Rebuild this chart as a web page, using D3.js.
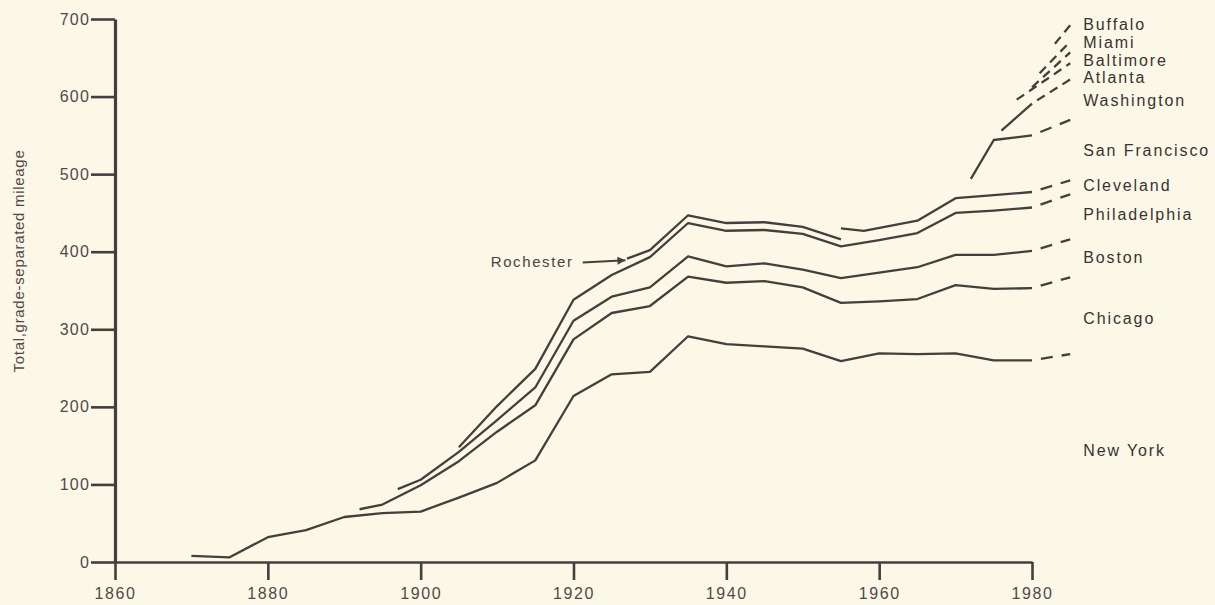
<!DOCTYPE html>
<html>
<head>
<meta charset="utf-8">
<script src="https://d3js.org/d3.v7.min.js"></script>
<style>
    body { margin: 0; background: #fcf8e8; }
    svg { display: block; }
    text { font-family: "Liberation Sans", Arial, sans-serif; }
</style>
</head>
<body>
<svg id="drawing_region"></svg>
<script>
// tick labels
const xTicks = [1860, 1880, 1900, 1920, 1940, 1960, 1980];
const yTicks = [0, 100, 200, 300, 400, 500, 600, 700];

// cumulative mileage, each line = top of that city's band
const nyYears = [1870, 1875, 1880, 1885, 1890, 1895, 1900, 1905, 1910, 1915, 1920, 1925, 1930, 1935, 1940, 1945, 1950, 1955, 1960, 1965, 1970, 1975, 1980, 1985];
const nyMiles = [8, 6, 32, 41, 58, 63, 65, 83, 102, 131, 214, 242, 245, 291, 281, 278, 275, 259, 269, 268, 269, 260, 260, 268];

const chicagoYears = [1892, 1895, 1900, 1905, 1910, 1915, 1920, 1925, 1930, 1935, 1940, 1945, 1950, 1955, 1960, 1965, 1970, 1975, 1980, 1985];
const chicagoMiles = [68, 74, 99, 130, 168, 202, 287, 321, 330, 368, 360, 362, 354, 334, 336, 339, 357, 352, 353, 367];

const bostonYears = [1897, 1900, 1905, 1910, 1915, 1920, 1925, 1930, 1935, 1940, 1945, 1950, 1955, 1960, 1965, 1970, 1975, 1980, 1985];
const bostonMiles = [94, 106, 142, 183, 225, 311, 342, 354, 394, 381, 385, 377, 366, 373, 380, 396, 396, 401, 416];

const phillyYears = [1905, 1910, 1915, 1920, 1925, 1930, 1935, 1940, 1945, 1950, 1955, 1960, 1965, 1970, 1975, 1980, 1985];
const phillyMiles = [148, 201, 249, 338, 370, 393, 437, 427, 428, 423, 407, 415, 424, 450, 453, 457, 474];

const rochesterYears = [1927, 1930, 1935, 1940, 1945, 1950, 1955];
const rochesterMiles = [391, 402, 447, 437, 438, 432, 416];

const clevelandYears = [1955, 1958, 1965, 1970, 1975, 1980, 1985];
const clevelandMiles = [430, 427, 440, 469, 473, 477, 492];

const sfYears = [1972, 1975, 1980, 1985];
const sfMiles = [494, 544, 550, 570];

const washYears = [1976, 1980, 1985];
const washMiles = [556, 591, 622];

const atlantaYears = [1978, 1985];
const atlantaMiles = [596, 643];

const baltimoreYears = [1980, 1985];
const baltimoreMiles = [612, 657];

const miamiYears = [1981, 1985];
const miamiMiles = [630, 671];

const buffaloYears = [1983, 1985];
const buffaloMiles = [668, 692];

// band labels on the right
const labelNames = ["New York", "Chicago", "Boston", "Philadelphia", "Cleveland", "San Francisco", "Washington", "Atlanta", "Baltimore", "Miami", "Buffalo"];
const labelMiles = [144, 314, 392, 448, 485, 531, 595, 624, 647, 670, 693];

const series = [
    { years: nyYears, miles: nyMiles, dashFrom: 1980, dash: '12,9' },
    { years: chicagoYears, miles: chicagoMiles, dashFrom: 1980, dash: '12,9' },
    { years: bostonYears, miles: bostonMiles, dashFrom: 1980, dash: '12,9' },
    { years: phillyYears, miles: phillyMiles, dashFrom: 1980, dash: '12,9' },
    { years: rochesterYears, miles: rochesterMiles, dashFrom: Infinity, dash: null },
    { years: clevelandYears, miles: clevelandMiles, dashFrom: 1980, dash: '12,9' },
    { years: sfYears, miles: sfMiles, dashFrom: 1980, dash: '12,9' },
    { years: washYears, miles: washMiles, dashFrom: 1980, dash: '9,6' },
    { years: atlantaYears, miles: atlantaMiles, dashFrom: 1978, dash: '9,6' },
    { years: baltimoreYears, miles: baltimoreMiles, dashFrom: 1980, dash: '9,6' },
    { years: miamiYears, miles: miamiMiles, dashFrom: 1981, dash: '9,6' },
    { years: buffaloYears, miles: buffaloMiles, dashFrom: 1983, dash: '9,6' }
];

class MileageChart {

    constructor( config, data ) {
        this.config = {
            parent: config.parent,
            width: config.width,
            height: config.height,
            margin: config.margin
        }
        this.data = data;
        this.init();
    }

    init() {
        let self = this;

        self.svg = d3.select( self.config.parent )
            .attr('width', self.config.width)
            .attr('height', self.config.height);

        self.inner_width = 917;
        self.inner_height = 543;

        self.chart = self.svg.append('g')
            .attr('transform', `translate(${self.config.margin.left}, ${self.config.margin.top})`);

        self.xscale = d3.scaleLinear()
            .domain([1860, 1980])
            .range([0, self.inner_width]);

        self.yscale = d3.scaleLinear()
            .domain([0, 700])
            .range([self.inner_height, 0]);

        self.line = d3.line()
            .x(d => self.xscale(d.year))
            .y(d => self.yscale(d.miles));
    }

    update() {
        let self = this;
        self.render();
    }

    render() {
        let self = this;
        const ink = '#4a3c3c';

        // axes
        const xaxis = d3.axisBottom(self.xscale)
            .tickValues(xTicks)
            .tickFormat(d3.format('d'))
            .tickSize(18)
            .tickSizeOuter(0)
            .tickPadding(8);

        const xg = self.chart.append('g')
            .attr('transform', `translate(0, ${self.inner_height})`)
            .call(xaxis);
        xg.select('.domain').attr('stroke', ink).attr('stroke-width', 2.6);
        xg.selectAll('line').attr('stroke', ink).attr('stroke-width', 2.6);
        xg.selectAll('text')
            .attr('fill', '#524848')
            .style('font-size', '16px')
            .style('letter-spacing', '1.6px');

        const yaxis = d3.axisLeft(self.yscale)
            .tickValues(yTicks)
            .tickSize(24)
            .tickSizeOuter(0)
            .tickPadding(1);

        const yg = self.chart.append('g')
            .call(yaxis);
        yg.select('.domain').attr('stroke', ink).attr('stroke-width', 3.2);
        yg.selectAll('line').attr('stroke', ink).attr('stroke-width', 2.6);
        yg.selectAll('text')
            .attr('fill', '#524848')
            .style('font-size', '16px')
            .style('letter-spacing', '1.2px');

        self.svg.append('text')
            .attr('transform', `translate(18, 261) rotate(-90)`)
            .attr('text-anchor', 'middle')
            .attr('dominant-baseline', 'central')
            .attr('fill', '#524848')
            .style('font-size', '15px')
            .style('letter-spacing', '0.7px')
            .text('Total,grade-separated mileage');

        // lines
        self.data.forEach( s => {
            const pts = s.years.map( (y, i) => ({ year: y, miles: s.miles[i] }) );
            const solid = pts.filter( d => d.year <= s.dashFrom );
            const dashed = pts.filter( d => d.year >= s.dashFrom );

            if (solid.length > 1) {
                self.chart.append('path')
                    .datum(solid)
                    .attr('d', self.line)
                    .attr('fill', 'none')
                    .attr('stroke', ink)
                    .attr('stroke-width', 2.3)
                    .attr('stroke-linejoin', 'round');
            }
            if (dashed.length > 1) {
                const dl = +s.dash.split(',')[0];
                self.chart.append('path')
                    .datum(dashed)
                    .attr('d', self.line)
                    .attr('fill', 'none')
                    .attr('stroke', ink)
                    .attr('stroke-width', 2.3)
                    .attr('stroke-dasharray', s.dash)
                    .attr('stroke-dashoffset', solid.length > 1 ? dl : 0);
            }
        });

        // city labels
        self.chart.selectAll('.city')
            .data(labelNames)
            .enter()
            .append('text')
            .attr('class', 'city')
            .attr('x', self.xscale(1985) + 13)
            .attr('y', (d, i) => self.yscale(labelMiles[i]))
            .attr('dominant-baseline', 'central')
            .attr('fill', '#3a3232')
            .style('font-size', '16px')
            .style('letter-spacing', '1.9px')
            .text(d => d);

        // Rochester note
        self.svg.append('defs').append('marker')
            .attr('id', 'head')
            .attr('viewBox', '0 0 10 10')
            .attr('refX', 10).attr('refY', 5)
            .attr('markerWidth', 11).attr('markerHeight', 8)
            .attr('markerUnits', 'userSpaceOnUse')
            .attr('orient', 'auto')
            .append('path')
            .attr('d', 'M0,0L10,5L0,10Z')
            .attr('fill', ink);

        self.chart.append('line')
            .attr('x1', self.xscale(1921.2))
            .attr('y1', self.yscale(386))
            .attr('x2', self.xscale(1926.8))
            .attr('y2', self.yscale(389))
            .attr('stroke', ink)
            .attr('stroke-width', 2)
            .attr('marker-end', 'url(#head)');

        self.chart.append('text')
            .attr('x', self.xscale(1920))
            .attr('y', self.yscale(387))
            .attr('text-anchor', 'end')
            .attr('dominant-baseline', 'central')
            .attr('fill', '#4a4242')
            .style('font-size', '15px')
            .style('letter-spacing', '1.6px')
            .text('Rochester');
    }
}

const config = {
    parent: '#drawing_region',
    width: 1215,
    height: 605,
    margin: {top: 19, right: 30, bottom: 43, left: 115}
};

const chart = new MileageChart( config, series );
chart.update();
</script>
</body>
</html>
